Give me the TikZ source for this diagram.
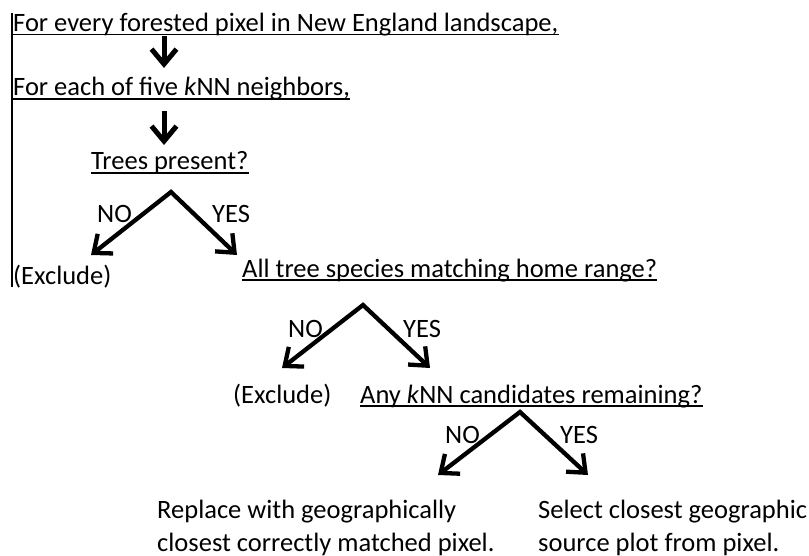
\documentclass[tikz,border=0pt]{standalone}
\usepackage{fontspec}
\setmainfont{Carlito}
\usetikzlibrary{arrows.meta}

\begin{document}
\begin{tikzpicture}[x=1pt, y=-1pt,
        every node/.style={inner sep=0pt, anchor=base west, font=\fontsize{26.5}{32.5}\selectfont},
        arr/.style={-{Straight Barb[length=15pt, width=25pt]}, line width=5pt},
        fork/.style={{Straight Barb[length=15pt, width=25pt]}-{Straight Barb[length=15pt, width=25pt]}, line width=4.3pt, line join=miter}]
        \useasboundingbox (0,0) rectangle (809,556);

        % questions
        \node (every) at (13,31.5) {For every forested pixel in New England landscape,};
        \node (each) at (13,96) {For each of five \textit{k}NN neighbors,};
        \node (trees) at (91,170) {Trees present?};
        \node (species) at (242,277) {All tree species matching home range?};
        \node (cand) at (360,403) {Any \textit{k}NN candidates remaining?};
        \foreach \t in {every, each, trees, species, cand}
        \draw[line width=1.8pt] ([yshift=-3pt]\t.base west) -- ([yshift=-3pt]\t.base east);

        % outcomes
        \node (excl1) at (13,284) {(Exclude)};
        \node (excl2) at (233,403) {(Exclude)};
        \node[align=left] (replace) at (157,551) {Replace with geographically\\closest correctly matched pixel.};
        \node[align=left] (select) at (538,551) {Select closest geographic\\source plot from pixel.};

        \draw[line width=1.2pt] (12,13) coordinate (topleft) -- (12,287) coordinate (botleft);

        % down arrows
        \coordinate (d1) at (164,36);
        \coordinate (d2) at (164,111);
        \draw[arr] (d1) -- (d1 |- 0,68);
        \draw[arr] (d2) -- (d2 |- 0,145);

        % branches
        \foreach \n/\ax/\ay/\lx/\rx/\ey in {a/171/192/91/237/255, b/363/305/282/430/368, c/520/412/438/588/475} {
        \coordinate (\n top) at (\ax,\ay);
        \coordinate (\n no) at (\lx,\ey);
        \coordinate (\n yes) at (\rx,\ey);
        \draw[fork] (\n no) -- (\n top) -- (\n yes);
        }
        \foreach \n/\x/\y/\xx in {a/97/223/212, b/288/337/403, c/445/443/560} {
        \node (\n nolab) at (\x,\y) {NO};
        \node (\n yeslab) at (\xx,\y) {YES};
        }
\end{tikzpicture}
\end{document}
